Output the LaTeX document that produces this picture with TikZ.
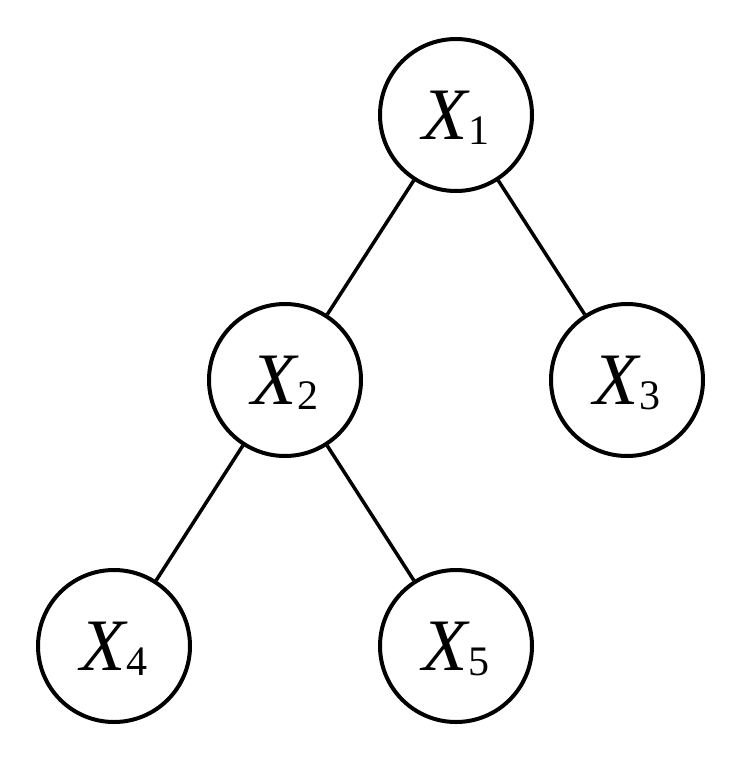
\documentclass[tikz,border=0pt]{standalone}
\usepackage{fontspec}
\setmainfont{Liberation Serif}
\newcommand{\vx}[1]{{\fontsize{74}{74}\selectfont\itshape X}\kern1pt\raisebox{-5pt}{\fontsize{42}{42}\selectfont #1}}
\begin{document}
\begin{tikzpicture}[x=1pt,y=-1pt,
  vnode/.style={circle,draw=black,line width=4pt,minimum size=152pt,inner sep=0pt,text height=48pt,text depth=0pt},
  edge/.style={line width=3.5pt,black}]
\useasboundingbox (0,0) rectangle (738,782);
\node[vnode] (x1) at (456,115) {\vx{1}};
\node[vnode] (x2) at (285,380) {\vx{2}};
\node[vnode] (x3) at (627,380) {\vx{3}};
\node[vnode] (x4) at (114,646) {\vx{4}};
\node[vnode] (x5) at (456,646) {\vx{5}};
\draw[edge] (x1) -- (x2);
\draw[edge] (x1) -- (x3);
\draw[edge] (x2) -- (x4);
\draw[edge] (x2) -- (x5);
\end{tikzpicture}
\end{document}
